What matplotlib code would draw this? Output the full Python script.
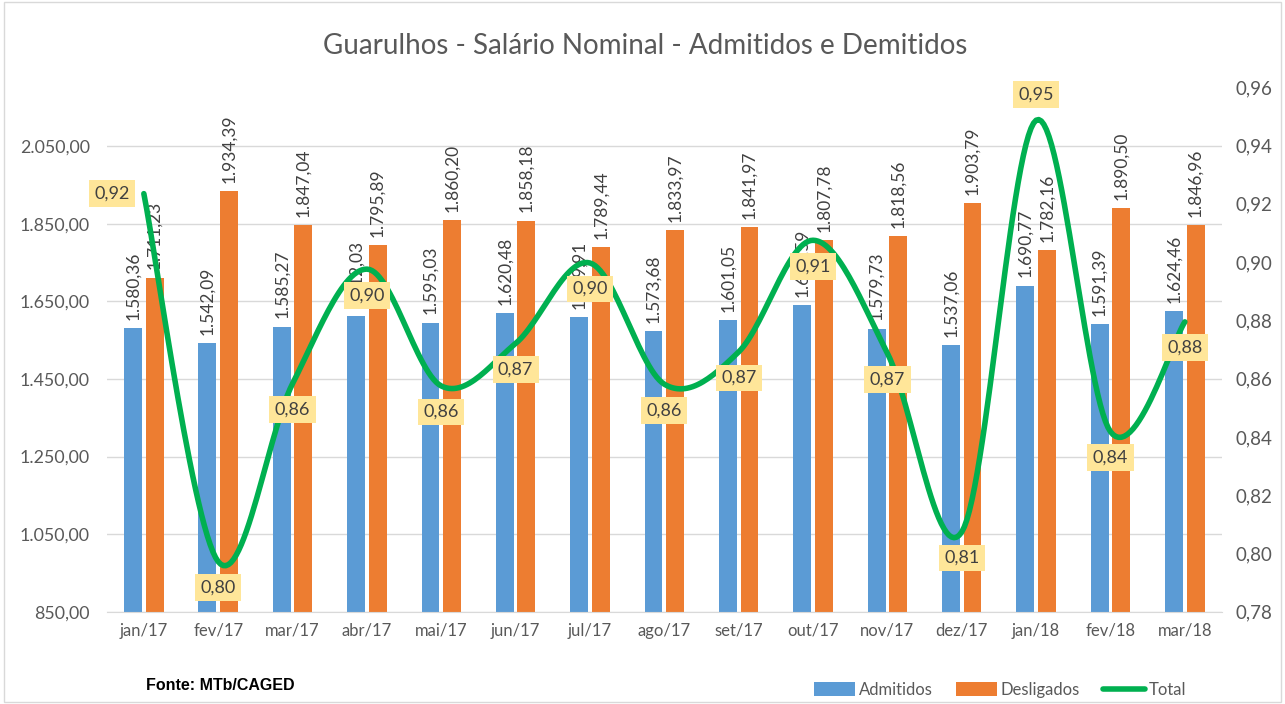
import numpy as np
import matplotlib
matplotlib.use("Agg")
import matplotlib.pyplot as plt
from matplotlib.patches import Rectangle

plt.rcParams['font.family'] = ['Lato', 'DejaVu Sans']

months = ["jan/17", "fev/17", "mar/17", "abr/17", "mai/17", "jun/17", "jul/17", "ago/17",
          "set/17", "out/17", "nov/17", "dez/17", "jan/18", "fev/18", "mar/18"]
admitidos = [1580.36, 1542.09, 1585.27, 1612.03, 1595.03, 1620.48, 1609.91, 1573.68,
             1601.05, 1640.59, 1579.73, 1537.06, 1690.77, 1591.39, 1624.46]
desligados = [1711.23, 1934.39, 1847.04, 1795.89, 1860.20, 1858.18, 1789.44, 1833.97,
              1841.97, 1807.78, 1818.56, 1903.79, 1782.16, 1890.50, 1846.96]
total = [0.9235, 0.7972, 0.8583, 0.8976, 0.8575, 0.8721, 0.8997, 0.8581,
         0.8692, 0.9075, 0.8687, 0.8074, 0.9487, 0.8418, 0.8795]
total_label_pos = ["left", "below", "below", "below", "below", "below", "below", "below",
                   "below", "below", "below", "below", "above", "below", "below"]

left_ticks = [850, 1050, 1250, 1450, 1650, 1850, 2050]
right_ticks = [0.78, 0.80, 0.82, 0.84, 0.86, 0.88, 0.90, 0.92, 0.94, 0.96]

BLUE = "#5B9BD5"
ORANGE = "#ED7D31"
GREEN = "#00B050"
GRAY = "#595959"


def br(v, nd=2):
    s = f"{v:,.{nd}f}"
    return s.replace(",", "X").replace(".", ",").replace("X", ".")


def catmull_rom(xs, ys, n=30):
    xs = np.asarray(xs, float)
    ys = np.asarray(ys, float)
    P = np.column_stack([xs, ys])
    P = np.vstack([P[0], P, P[-1]])
    out = []
    for i in range(1, len(P) - 2):
        p0, p1, p2, p3 = P[i - 1], P[i], P[i + 1], P[i + 2]
        c1 = p1 + (p2 - p0) / 6.0
        c2 = p2 - (p3 - p1) / 6.0
        t = np.linspace(0, 1, n)[:, None]
        seg = ((1 - t) ** 3) * p1 + 3 * ((1 - t) ** 2) * t * c1 + 3 * (1 - t) * t ** 2 * c2 + t ** 3 * p2
        out.append(seg if i == 1 else seg[1:])
    out = np.vstack(out)
    return out[:, 0], out[:, 1]


fig = plt.figure(figsize=(12.85, 7.04), dpi=100)
fig.patches.append(Rectangle((0.003, 0.003), 0.994, 0.994, transform=fig.transFigure,
                             fill=False, edgecolor="#D9D9D9", linewidth=1))
ax = fig.add_axes([0.083, 0.131, 0.868, 0.745])
ax2 = ax.twinx()

x = np.arange(len(months))
w = 0.24
off = 0.145
ax.bar(x - off, admitidos, width=w, color=BLUE, label="Admitidos", zorder=2)
ax.bar(x + off, desligados, width=w, color=ORANGE, label="Desligados", zorder=2)

for xi, v in zip(x, admitidos):
    ax.annotate(br(v), (xi - off, v), xytext=(0, 6), textcoords="offset points",
                rotation=90, ha="center", va="bottom", fontsize=12.5, color="#404040", zorder=3)
for xi, v in zip(x, desligados):
    ax.annotate(br(v), (xi + off, v), xytext=(0, 6), textcoords="offset points",
                rotation=90, ha="center", va="bottom", fontsize=12.5, color="#404040", zorder=3)

ax.set_xlim(-0.5, len(months) - 0.5)
ax.set_ylim(850, 2202)
ax.set_yticks(left_ticks)
ax.set_yticklabels([br(t) for t in left_ticks])
ax.set_xticks(x)
ax.set_xticklabels(months)
ax.grid(axis="y", color="#D9D9D9", linewidth=1, zorder=0)
ax.set_axisbelow(True)
for s in ["top", "right", "left"]:
    ax.spines[s].set_visible(False)
ax.spines["bottom"].set_color("#D9D9D9")
ax.tick_params(axis="y", length=0, labelsize=12.8, labelcolor=GRAY, pad=12)
ax.tick_params(axis="x", length=0, labelsize=12, labelcolor=GRAY, pad=8)

sx, sy = catmull_rom(x, total)
ax2.plot(sx, sy, color=GREEN, linewidth=4, solid_capstyle="round", zorder=4, label="Total")
ax2.set_ylim(0.78, 0.96)
ax2.set_yticks(right_ticks)
ax2.set_yticklabels([br(t) for t in right_ticks])
for s in ["top", "right", "left", "bottom"]:
    ax2.spines[s].set_visible(False)
ax2.tick_params(axis="y", length=0, labelsize=13.5, labelcolor=GRAY, pad=10)

for xi, v, pos in zip(x, total, total_label_pos):
    if pos == "left":
        xy, ha, va = (-10, 0), "right", "center"
    elif pos == "above":
        xy, ha, va = (0, 13), "center", "bottom"
    else:
        xy, ha, va = (0, -13), "center", "top"
    ax2.annotate(br(v), (xi, v), xytext=xy, textcoords="offset points", ha=ha, va=va,
                 fontsize=13, color="#404040", zorder=6,
                 bbox=dict(boxstyle="square,pad=0.3", facecolor="#FFE699", edgecolor="none"))

fig.text(0.502, 0.935, "Guarulhos - Salário Nominal - Admitidos e Demitidos",
         ha="center", va="center", fontsize=20, color=GRAY)
fig.text(0.114, 0.026, "Fonte: MTb/CAGED", ha="left", va="center", fontsize=11.5,
         fontweight="bold", family=["Liberation Sans Narrow", "Liberation Sans", "DejaVu Sans"])

h1, l1 = ax.get_legend_handles_labels()
h2, l2 = ax2.get_legend_handles_labels()
fig.legend(h1 + h2, l1 + l2, loc="center", bbox_to_anchor=(0.778, 0.02), ncol=3,
           frameon=False, fontsize=12, labelcolor=GRAY, handlelength=2.5,
           handleheight=0.9, columnspacing=1.4, handletextpad=0.2)

fig.savefig("out.png", dpi=100)
